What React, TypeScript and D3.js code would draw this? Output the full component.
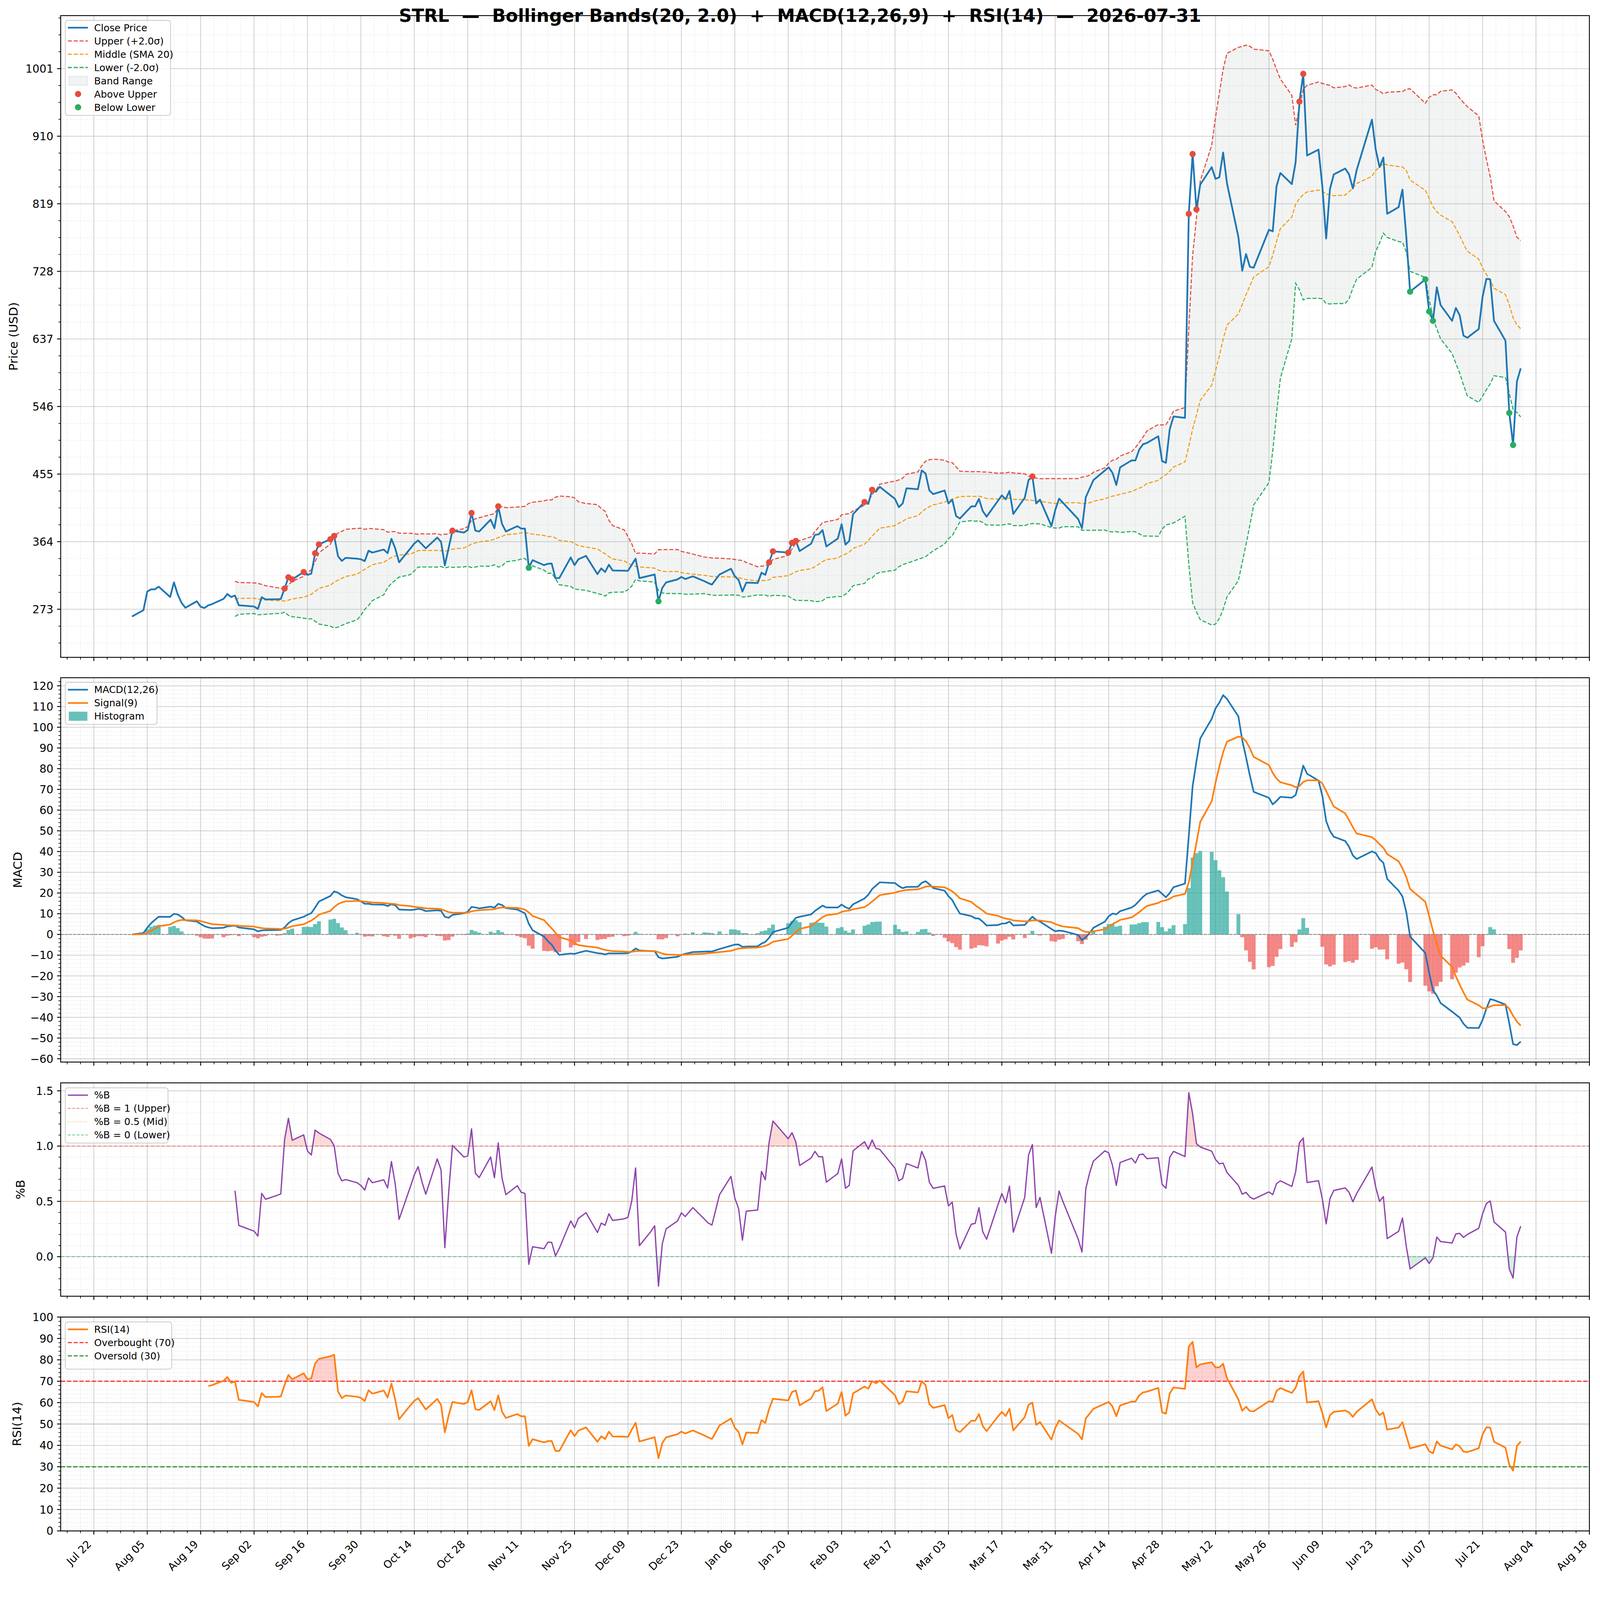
import React from 'react';
import * as d3 from 'd3';

// ---------------- DATA ----------------
const TITLE = 'STRL  \u2014  Bollinger Bands(20, 2.0)  +  MACD(12,26,9)  +  RSI(14)  \u2014  2026-07-31';
const START_DATE = '2025-08-01';
const END_DATE = '2026-07-31';
const MARKET_HOLIDAYS = [
  '2025-09-01', '2025-11-27', '2025-12-25', '2026-01-01', '2026-01-19',
  '2026-02-16', '2026-04-03', '2026-05-25', '2026-06-19', '2026-07-03',
];
const CLOSE_AUG = [263.2, 271.7, 296.8, 299.8, 299.8, 303.4, 289.5, 309.1, 292.7, 281.6, 275.0, 283.7, 276.3, 274.7, 278.3, 279.9, 287.0, 293.5, 289.5, 291.4, 278.3];
const CLOSE_SEP = [276.7, 273.4, 289.1, 286.2, 286.5, 286.8, 300.9, 316.0, 313.2, 323.1, 319.3, 320.9, 348.5, 360.3, 367.3, 371.8, 344.4, 338.1, 342.2, 341.1, 340.3];
const CLOSE_OCT = [337.8, 351.8, 349.3, 353.4, 348.5, 367.8, 355.0, 336.2, 355.0, 361.6, 365.7, 360.4, 355.0, 369.5, 364.0, 332.1, 355.5, 378.8, 376.3, 379.6, 402.6, 378.8, 377.7];
const CLOSE_NOV = [393.6, 382.1, 411.6, 387.8, 377.7, 384.9, 381.6, 381.6, 328.8, 339.1, 332.4, 334.2, 334.5, 314.9, 314.9, 342.7, 332.4, 340.3, 344.9];
const CLOSE_DEC = [320.3, 328.0, 323.1, 332.9, 325.2, 324.9, 324.7, 332.9, 341.1, 314.9, 318.6, 319.8, 283.7, 301.8, 309.1, 313.2, 316.5, 313.7, 317.3, 310.8, 308.3, 306.2];
const CLOSE_JAN = [319.8, 327.5, 317.6, 312.4, 296.8, 308.8, 308.3, 322.2, 319.3, 336.2, 350.9, 349.3, 362.4, 364.9, 351.4, 361.3, 373.1, 373.9, 379.6, 357.5];
const CLOSE_FEB = [368.2, 387.5, 360.0, 364.9, 401.0, 417.4, 414.9, 433.8, 431.3, 437.9, 421.5, 410.5, 415.4, 435.9, 434.6, 460.0, 455.9, 432.9, 428.0];
const CLOSE_MAR = [432.9, 415.4, 420.6, 398.5, 395.2, 411.6, 411.6, 421.5, 405.1, 397.7, 419.2, 426.4, 421.0, 432.4, 401.3, 423.1, 446.9, 451.8, 415.4, 420.6, 385.0, 406.7];
const CLOSE_APR = [421.9, 416.5, 394.4, 382.1, 423.9, 435.4, 446.9, 459.8, 464.1, 456.7, 440.3, 464.1, 473.4, 473.4, 487.9, 495.2, 496.9, 505.9, 472.5, 470.2, 515.3];
const CLOSE_MAY = [532.6, 530.7, 805.5, 886.0, 811.4, 844.8, 868.3, 852.6, 854.6, 888.0, 846.7, 774.1, 728.9, 751.3, 734.1, 732.9, 783.9, 781.9, 842.8, 860.4];
const CLOSE_JUN = [845.5, 875.0, 956.6, 994.0, 884.0, 891.9, 842.8, 772.1, 838.9, 858.5, 866.4, 858.5, 839.6, 864.4, 932.3, 891.9, 868.3, 881.3, 805.5, 814.5, 838.1];
const CLOSE_JUL = [774.9, 700.7, 717.2, 674.0, 661.4, 706.6, 682.6, 661.4, 678.7, 668.9, 641.4, 638.6, 650.4, 693.6, 718.0, 717.2, 661.4, 634.7, 537.4, 494.2, 579.8, 597.4];

const PRICE_TICKS = [273, 364, 455, 546, 637, 728, 819, 910, 1001];
const MACD_TICKS = [-60, -50, -40, -30, -20, -10, 0, 10, 20, 30, 40, 50, 60, 70, 80, 90, 100, 110, 120];
const PCTB_TICKS = [0, 0.5, 1.0, 1.5];
const RSI_TICKS = [0, 10, 20, 30, 40, 50, 60, 70, 80, 90, 100];
const X_TICK_FIRST = '2025-07-22';
const X_TICK_COUNT = 29;

// ---------------- LAYOUT ----------------
const W = 4377;
const H = 4322;
const L = 166;
const R = 4348;
const P1 = { top: 42.7, bottom: 1798.3, d0: 208.2, d1: 1072.4 };
const P2 = { top: 1854, bottom: 2905.4, d0: -61.6, d1: 123.9 };
const P3 = { top: 2962.3, bottom: 3546, d0: -0.358, d1: 1.572 };
const P4 = { top: 3603, bottom: 4188, d0: 0, d1: 100 };
const FONT = 'DejaVu Sans, Verdana, sans-serif';

const C = {
  close: '#1f77b4', upper: '#e74c3c', middle: '#f39c12', lower: '#27ae60',
  macd: '#1f77b4', signal: '#ff7f0e', histPos: '#26a69a', histNeg: '#ef5350',
  pctb: '#8e44ad', rsi: '#ff7f0e', band: '#95a5a6',
};

// ---------------- COMPUTE ----------------
const parse = (s: string) => new Date(s + 'T00:00:00Z');
const DAY = 86400000;

function tradingDays(): Date[] {
  const hol = new Set(MARKET_HOLIDAYS);
  const f = d3.utcFormat('%Y-%m-%d');
  return d3.utcDay
    .range(parse(START_DATE), d3.utcDay.offset(parse(END_DATE), 1))
    .filter((d) => d.getUTCDay() !== 0 && d.getUTCDay() !== 6 && !hol.has(f(d)));
}

const close: number[] = [
  ...CLOSE_AUG, ...CLOSE_SEP, ...CLOSE_OCT, ...CLOSE_NOV, ...CLOSE_DEC, ...CLOSE_JAN,
  ...CLOSE_FEB, ...CLOSE_MAR, ...CLOSE_APR, ...CLOSE_MAY, ...CLOSE_JUN, ...CLOSE_JUL,
];
const dates = tradingDays();
const N = Math.min(close.length, dates.length);

const mid: (number | null)[] = [];
const upper: (number | null)[] = [];
const lower: (number | null)[] = [];
for (let i = 0; i < N; i++) {
  if (i < 19) { mid.push(null); upper.push(null); lower.push(null); continue; }
  const w = close.slice(i - 19, i + 1);
  const m = d3.mean(w) as number;
  const sd = d3.deviation(w) as number;
  mid.push(m); upper.push(m + 2 * sd); lower.push(m - 2 * sd);
}
const pctb = close.slice(0, N).map((c, i) => (upper[i] == null ? null : (c - (lower[i] as number)) / ((upper[i] as number) - (lower[i] as number))));

function ema(arr: number[], span: number) {
  const a = 2 / (span + 1);
  const out: number[] = [];
  arr.forEach((v, i) => out.push(i === 0 ? v : a * v + (1 - a) * out[i - 1]));
  return out;
}
const e12 = ema(close.slice(0, N), 12);
const e26 = ema(close.slice(0, N), 26);
const macd = e12.map((v, i) => v - e26[i]);
const signal = ema(macd, 9);
const hist = macd.map((v, i) => v - signal[i]);

const rsi: (number | null)[] = [null];
{
  const alpha = 1 / 14;
  let ag = 0, al = 0;
  for (let i = 1; i < N; i++) {
    const dlt = close[i] - close[i - 1];
    const g = Math.max(dlt, 0), l = Math.max(-dlt, 0);
    if (i === 1) { ag = g; al = l; } else { ag = alpha * g + (1 - alpha) * ag; al = alpha * l + (1 - alpha) * al; }
    rsi.push(i >= 14 ? (al === 0 ? 100 : 100 - 100 / (1 + ag / al)) : null);
  }
}

// ---------------- SCALES ----------------
const t0 = parse(X_TICK_FIRST).getTime();
const x = d3.scaleUtc().domain([new Date(t0 - 8.69 * DAY), new Date(t0 + 392 * DAY)]).range([L, R]);
const y1 = d3.scaleLinear().domain([P1.d0, P1.d1]).range([P1.bottom, P1.top]);
const y2 = d3.scaleLinear().domain([P2.d0, P2.d1]).range([P2.bottom, P2.top]);
const y3 = d3.scaleLinear().domain([P3.d0, P3.d1]).range([P3.bottom, P3.top]);
const y4 = d3.scaleLinear().domain([P4.d0, P4.d1]).range([P4.bottom, P4.top]);

const xMajor = d3.range(X_TICK_COUNT).map((k) => new Date(t0 + k * 14 * DAY));
const xMinor = d3.range(-4, X_TICK_COUNT * 4 + 4)
  .filter((k) => k % 4 !== 0)
  .map((k) => new Date(t0 + k * 3.5 * DAY))
  .filter((d) => d >= x.domain()[0] && d <= x.domain()[1]);
const fmtX = d3.utcFormat('%b %d');

function minorTicks(d0: number, d1: number, base: number, step: number, majors: number[]) {
  const out: number[] = [];
  const k0 = Math.ceil((d0 - base) / step), k1 = Math.floor((d1 - base) / step);
  for (let k = k0; k <= k1; k++) {
    const v = base + k * step;
    if (!majors.some((m) => Math.abs(m - v) < step * 0.01)) out.push(v);
  }
  return out;
}

const idx = d3.range(N);
const linePath = (vals: (number | null)[], ys: d3.ScaleLinear<number, number>) =>
  d3.line<number>().defined((i) => vals[i] != null).x((i) => x(dates[i])).y((i) => ys(vals[i] as number))(idx) || '';

// ---------------- COMPONENTS ----------------
type PanelProps = {
  id: string; p: { top: number; bottom: number; d0: number; d1: number };
  ys: d3.ScaleLinear<number, number>; majors: number[]; minors: number[];
  fmt: (v: number) => string; ylabel: string; ylabelX: number; xLabels?: boolean;
  children?: React.ReactNode; legend?: React.ReactNode;
};

function Panel({ id, p, ys, majors, minors, fmt, ylabel, ylabelX, xLabels, children, legend }: PanelProps) {
  const yMaj = majors.filter((v) => v >= p.d0 && v <= p.d1);
  return (
    <g>
      <defs>
        <clipPath id={'clip-' + id}><rect x={L} y={p.top} width={R - L} height={p.bottom - p.top} /></clipPath>
      </defs>
      <g stroke="#b0b0b0" strokeOpacity={0.45} strokeWidth={1.5} strokeDasharray="2 4">
        {xMinor.map((d, i) => <line key={'mx' + i} x1={x(d)} x2={x(d)} y1={p.top} y2={p.bottom} />)}
        {minors.map((v, i) => <line key={'my' + i} x1={L} x2={R} y1={ys(v)} y2={ys(v)} />)}
      </g>
      <g stroke="#b0b0b0" strokeOpacity={0.6} strokeWidth={2.2}>
        {xMajor.filter((d) => x(d) > L && x(d) < R).map((d, i) => <line key={'gx' + i} x1={x(d)} x2={x(d)} y1={p.top} y2={p.bottom} />)}
        {yMaj.map((v, i) => <line key={'gy' + i} x1={L} x2={R} y1={ys(v)} y2={ys(v)} />)}
      </g>
      <g clipPath={`url(#clip-${id})`}>{children}</g>
      {legend}
      <rect x={L} y={p.top} width={R - L} height={p.bottom - p.top} fill="none" stroke="#000" strokeWidth={2.4} />
      <g stroke="#000">
        {yMaj.map((v, i) => <line key={'ty' + i} x1={L - 10} x2={L} y1={ys(v)} y2={ys(v)} strokeWidth={2.4} />)}
        {minors.map((v, i) => <line key={'tmy' + i} x1={L - 6} x2={L} y1={ys(v)} y2={ys(v)} strokeWidth={1.8} />)}
        {xMajor.filter((d) => x(d) >= L - 0.5 && x(d) <= R + 0.5).map((d, i) => <line key={'tx' + i} x1={x(d)} x2={x(d)} y1={p.bottom} y2={p.bottom + 10} strokeWidth={2.4} />)}
        {xMinor.map((d, i) => <line key={'tmx' + i} x1={x(d)} x2={x(d)} y1={p.bottom} y2={p.bottom + 6} strokeWidth={1.8} />)}
      </g>
      <g fontFamily={FONT} fontSize={30} fill="#000" textAnchor="end">
        {yMaj.map((v, i) => <text key={'ly' + i} x={L - 20} y={ys(v) + 11}>{fmt(v)}</text>)}
      </g>
      {xLabels && (
        <g fontFamily={FONT} fontSize={29} fill="#000" textAnchor="end">
          {xMajor.map((d, i) => (
            <text key={'lx' + i} transform={`translate(${x(d) - 5},${p.bottom + 38}) rotate(-45)`}>{fmtX(d)}</text>
          ))}
        </g>
      )}
      <text fontFamily={FONT} fontSize={33} textAnchor="middle" transform={`translate(${ylabelX + 12},${(p.top + p.bottom) / 2}) rotate(-90)`}>{ylabel}</text>
    </g>
  );
}

type Row = { label: string; kind: 'line' | 'rect' | 'dot'; color: string; dash?: string; width?: number; opacity?: number };
function Legend({ x0, y0, w, h, rows }: { x0: number; y0: number; w: number; h: number; rows: Row[] }) {
  return (
    <g>
      <rect x={x0} y={y0} width={w} height={h} rx={7} fill="#fff" fillOpacity={0.8} stroke="#cccccc" strokeWidth={2.2} />
      {rows.map((r, i) => {
        const cy = y0 + 20 + i * 36.3;
        return (
          <g key={i}>
            {r.kind === 'line' && <line x1={x0 + 7} x2={x0 + 62} y1={cy} y2={cy} stroke={r.color} strokeWidth={r.width || 3} strokeDasharray={r.dash} strokeOpacity={r.opacity ?? 1} />}
            {r.kind === 'rect' && <rect x={x0 + 10} y={cy - 12} width={50} height={24} fill={r.color} fillOpacity={r.opacity ?? 1} stroke={r.color} strokeOpacity={0.25} strokeWidth={2} />}
            {r.kind === 'dot' && <circle cx={x0 + 35} cy={cy} r={8.5} fill={r.color} />}
            <text x={x0 + 79} y={cy + 9.5} fontFamily={FONT} fontSize={26.5} fill="#000">{r.label}</text>
          </g>
        );
      })}
    </g>
  );
}

function clipAbove(id: string, yv: number, p: { top: number }) {
  return <clipPath id={id}><rect x={L} y={p.top} width={R - L} height={yv - p.top} /></clipPath>;
}
function clipBelow(id: string, yv: number, p: { bottom: number }) {
  return <clipPath id={id}><rect x={L} y={yv} width={R - L} height={p.bottom - yv} /></clipPath>;
}

export default function App() {
  const bandIdx = idx.filter((i) => upper[i] != null);
  const bandArea = d3.area<number>().x((i) => x(dates[i])).y0((i) => y1(lower[i] as number)).y1((i) => y1(upper[i] as number))(bandIdx) || '';
  const above = idx.filter((i) => upper[i] != null && close[i] > (upper[i] as number));
  const below = idx.filter((i) => lower[i] != null && close[i] < (lower[i] as number));
  const halfDay = (x(new Date(DAY)) - x(new Date(0))) / 2;

  const pbIdx = idx.filter((i) => pctb[i] != null);
  const pbArea = (ref: number) => d3.area<number>().x((i) => x(dates[i])).y0(y3(ref)).y1((i) => y3(pctb[i] as number))(pbIdx) || '';
  const rsIdx = idx.filter((i) => rsi[i] != null);
  const rsArea = (ref: number) => d3.area<number>().x((i) => x(dates[i])).y0(y4(ref)).y1((i) => y4(rsi[i] as number))(rsIdx) || '';

  return (
    <svg viewBox={`0 0 ${W} ${H}`} preserveAspectRatio="xMinYMin meet"
      style={{ position: 'fixed', left: 0, top: 0, width: '100vw', height: '100vh', background: '#fff', display: 'block' }}>
      <rect x={0} y={0} width={W} height={H} fill="#fff" />
      <defs>
        {clipAbove('pb-up', y3(1), P3)}
        {clipBelow('pb-dn', y3(0), P3)}
        {clipAbove('rs-up', y4(70), P4)}
        {clipBelow('rs-dn', y4(30), P4)}
      </defs>

      <Panel id="p1" p={P1} ys={y1} majors={PRICE_TICKS} minors={minorTicks(P1.d0, P1.d1, 273, 22.75, PRICE_TICKS)}
        fmt={(v) => String(v)} ylabel="Price (USD)" ylabelX={36}
        legend={<Legend x0={178.6} y0={55.7} w={288} h={260} rows={[
          { label: 'Close Price', kind: 'line', color: C.close, width: 4.5 },
          { label: 'Upper (+2.0\u03c3)', kind: 'line', color: C.upper, dash: '11 5', width: 3 },
          { label: 'Middle (SMA 20)', kind: 'line', color: C.middle, dash: '11 5', width: 3 },
          { label: 'Lower (-2.0\u03c3)', kind: 'line', color: C.lower, dash: '11 5', width: 3 },
          { label: 'Band Range', kind: 'rect', color: C.band, opacity: 0.12 },
          { label: 'Above Upper', kind: 'dot', color: C.upper },
          { label: 'Below Lower', kind: 'dot', color: C.lower },
        ]} />}>
        <path d={bandArea} fill={C.band} fillOpacity={0.12} />
        <path d={linePath(upper, y1)} fill="none" stroke={C.upper} strokeWidth={3} strokeDasharray="11 5" />
        <path d={linePath(mid, y1)} fill="none" stroke={C.middle} strokeWidth={3} strokeDasharray="11 5" />
        <path d={linePath(lower, y1)} fill="none" stroke={C.lower} strokeWidth={3} strokeDasharray="11 5" />
        <path d={linePath(close, y1)} fill="none" stroke={C.close} strokeWidth={4.8} strokeLinejoin="round" />
        {above.map((i) => <circle key={'a' + i} cx={x(dates[i])} cy={y1(close[i])} r={8.5} fill={C.upper} />)}
        {below.map((i) => <circle key={'b' + i} cx={x(dates[i])} cy={y1(close[i])} r={8.5} fill={C.lower} />)}
      </Panel>

      <Panel id="p2" p={P2} ys={y2} majors={MACD_TICKS} minors={minorTicks(P2.d0, P2.d1, 0, 2, MACD_TICKS)}
        fmt={(v) => (v < 0 ? '\u2212' + Math.abs(v) : String(v))} ylabel="MACD" ylabelX={48}
        legend={<Legend x0={178.6} y0={1866.7} w={251} h={115} rows={[
          { label: 'MACD(12,26)', kind: 'line', color: C.macd, width: 4.5 },
          { label: 'Signal(9)', kind: 'line', color: C.signal, width: 4.5 },
          { label: 'Histogram', kind: 'rect', color: C.histPos, opacity: 0.7 },
        ]} />}>
        {idx.map((i) => {
          const h = hist[i];
          const ya = y2(Math.max(h, 0)), yb = y2(Math.min(h, 0));
          return <rect key={'h' + i} x={x(dates[i]) - halfDay} y={ya} width={halfDay * 2} height={Math.max(yb - ya, 0)}
            fill={h >= 0 ? C.histPos : C.histNeg} fillOpacity={0.7} />;
        })}
        <line x1={L} x2={R} y1={y2(0)} y2={y2(0)} stroke="#808080" strokeOpacity={0.85} strokeWidth={2.6} strokeDasharray="8 3.5" />
        <path d={linePath(macd, y2)} fill="none" stroke={C.macd} strokeWidth={4.5} strokeLinejoin="round" />
        <path d={linePath(signal, y2)} fill="none" stroke={C.signal} strokeWidth={4.5} strokeLinejoin="round" />
      </Panel>

      <Panel id="p3" p={P3} ys={y3} majors={PCTB_TICKS} minors={minorTicks(P3.d0, P3.d1, 0, 0.1, PCTB_TICKS)}
        fmt={(v) => v.toFixed(1)} ylabel="%B" ylabelX={55}
        legend={<Legend x0={178.6} y0={2975.9} w={281} h={151} rows={[
          { label: '%B', kind: 'line', color: C.pctb, width: 3.5 },
          { label: '%B = 1 (Upper)', kind: 'line', color: C.upper, dash: '8 4', width: 2.2, opacity: 0.7 },
          { label: '%B = 0.5 (Mid)', kind: 'line', color: C.middle, dash: '2 3.5', width: 2.4, opacity: 0.7 },
          { label: '%B = 0 (Lower)', kind: 'line', color: C.lower, dash: '8 4', width: 2.2, opacity: 0.7 },
        ]} />}>
        <line x1={L} x2={R} y1={y3(1)} y2={y3(1)} stroke={C.upper} strokeOpacity={0.7} strokeWidth={2.2} strokeDasharray="10 4.5" />
        <line x1={L} x2={R} y1={y3(0.5)} y2={y3(0.5)} stroke={C.middle} strokeOpacity={0.7} strokeWidth={2.4} strokeDasharray="2 3.5" />
        <line x1={L} x2={R} y1={y3(0)} y2={y3(0)} stroke={C.lower} strokeOpacity={0.7} strokeWidth={2.2} strokeDasharray="10 4.5" />
        <path d={pbArea(1)} fill={C.upper} fillOpacity={0.2} clipPath="url(#pb-up)" />
        <path d={pbArea(0)} fill={C.lower} fillOpacity={0.2} clipPath="url(#pb-dn)" />
        <path d={linePath(pctb, y3)} fill="none" stroke={C.pctb} strokeWidth={3.5} strokeLinejoin="round" />
      </Panel>

      <Panel id="p4" p={P4} ys={y4} majors={RSI_TICKS} minors={minorTicks(P4.d0, P4.d1, 0, 2, RSI_TICKS)}
        fmt={(v) => String(v)} ylabel="RSI(14)" ylabelX={46} xLabels
        legend={<Legend x0={178.6} y0={3616.5} w={291} h={129} rows={[
          { label: 'RSI(14)', kind: 'line', color: C.rsi, width: 4.5 },
          { label: 'Overbought (70)', kind: 'line', color: 'red', dash: '11 5', width: 3.2, opacity: 0.8 },
          { label: 'Oversold (30)', kind: 'line', color: 'green', dash: '11 5', width: 3.2, opacity: 0.8 },
        ]} />}>
        <line x1={L} x2={R} y1={y4(70)} y2={y4(70)} stroke="red" strokeOpacity={0.8} strokeWidth={3.2} strokeDasharray="12 5" />
        <line x1={L} x2={R} y1={y4(30)} y2={y4(30)} stroke="green" strokeOpacity={0.8} strokeWidth={3.2} strokeDasharray="12 5" />
        <line x1={L} x2={R} y1={y4(50)} y2={y4(50)} stroke="gray" strokeOpacity={0.6} strokeWidth={2.2} strokeDasharray="2 3" />
        <path d={rsArea(70)} fill="red" fillOpacity={0.18} clipPath="url(#rs-up)" />
        <path d={rsArea(30)} fill="green" fillOpacity={0.18} clipPath="url(#rs-dn)" />
        <path d={linePath(rsi, y4)} fill="none" stroke={C.rsi} strokeWidth={4.5} strokeLinejoin="round" />
      </Panel>

      <text x={W / 2} y={60} textAnchor="middle" fontFamily={FONT} fontSize={49} fontWeight="bold" fill="#000"
        style={{ whiteSpace: 'pre' }} xmlSpace="preserve">{TITLE}</text>
    </svg>
  );
}
